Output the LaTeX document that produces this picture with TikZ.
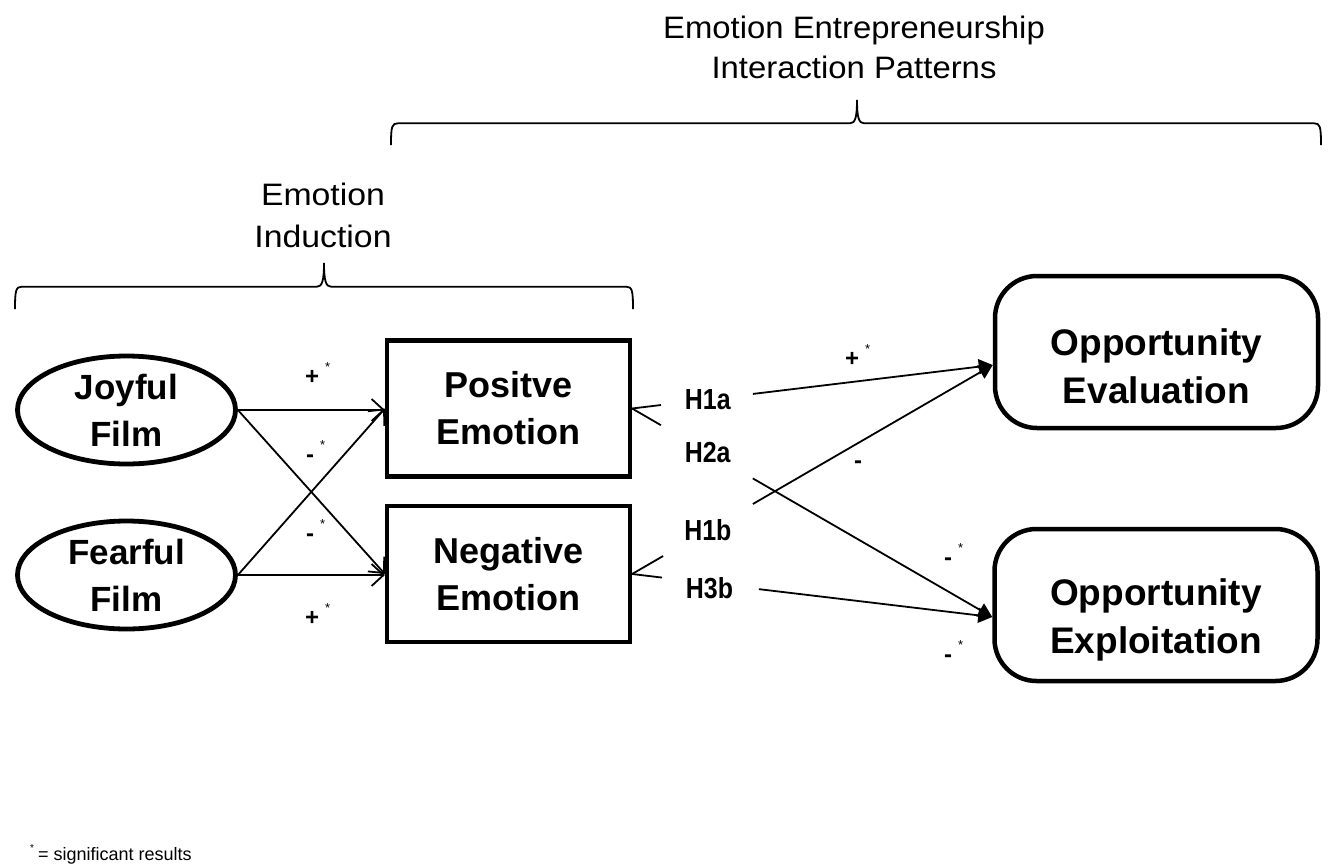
\documentclass[tikz,border=0pt]{standalone}
\usepackage{fontspec}
\setmainfont{Liberation Sans}
\newfontfamily\grpfont[FakeStretch=1.06]{Liberation Sans}
\newfontfamily\grplowfont[FakeStretch=1.09]{Liberation Sans}
\newfontfamily\hfont[FakeStretch=0.86]{Liberation Sans}
\usetikzlibrary{arrows.meta,shapes.geometric,calc}
\newcommand\sgn[1]{#1\hspace{6pt}\raisebox{13pt}{\mdseries\fontsize{13}{13}\selectfont *}}
\begin{document}
\begin{tikzpicture}[x=1pt,y=-1pt,
  film/.style={ellipse,draw,line width=4.8pt,minimum width=218pt,minimum height=108pt,inner sep=0pt,align=center,font=\bfseries\fontsize{35}{47}\selectfont},
  emo/.style={rectangle,draw,line width=4.2pt,minimum width=243pt,minimum height=136pt,inner sep=0pt,align=center,font=\bfseries\fontsize{36}{47}\selectfont},
  opp/.style={rectangle,rounded corners=42pt,draw,line width=4.5pt,minimum width=323pt,minimum height=152pt},
  opptext/.style={inner sep=0pt,align=center,font=\bfseries\fontsize{37}{48}\selectfont},
  openarr/.style={line width=1.8pt,-{Straight Barb[length=12pt,width=22pt,line width=1.8pt]}},
  filledarr/.style={line width=1.8pt,-{Triangle[length=14pt,width=15pt]}},
  plain/.style={line width=1.8pt},
  brace/.style={line width=1.8pt},
  hlab/.style={inner sep=0pt,font=\hfont\bfseries\fontsize{29}{29}\selectfont},
  sgnode/.style={anchor=base west,inner sep=0pt,font=\bfseries\fontsize{24}{24}\selectfont},
  grplab/.style={inner sep=0pt,align=center,font=\grpfont\fontsize{31}{40}\selectfont},
]
\useasboundingbox (0,0) rectangle (1331,865);

% group labels and braces
\node[grplab] (toplab) at (854,47) {Emotion Entrepreneurship\\Interaction Patterns};
\node[grplab,font=\grplowfont\fontsize{31}{42}\selectfont] (lowlab) at (323,215) {Emotion\\Induction};
\draw[brace] (391,145) .. controls (391,126) and (392,123.3) .. (398,123.3) -- (850,123.3)
  .. controls (855,123.3) and (857,118) .. (857,100)
  .. controls (857,118) and (859,123.3) .. (864,123.3) -- (1314,123.3)
  .. controls (1320,123.3) and (1321,126) .. (1321,145);
\draw[brace] (15,309) .. controls (15,290) and (16,286.7) .. (22,286.7) -- (317,286.7)
  .. controls (322,286.7) and (324,281) .. (324,263)
  .. controls (324,281) and (326,286.7) .. (331,286.7) -- (626,286.7)
  .. controls (632,286.7) and (633,290) .. (633,309);

% nodes
\node[film] (joy) at (126.5,410) {Joyful\\Film};
\node[film] (fear) at (126.5,575) {Fearful\\Film};
\node[emo] (pos) at (508.5,408.5) {Positve\\Emotion};
\node[emo] (neg) at (508.5,574) {Negative\\Emotion};
\node[opp] (eval) at (1156.5,352) {};
\node[opp] (expl) at (1156,605) {};
\node[opptext] (evaltext) at (1156.5,366) {Opportunity\\Evaluation};
\node[opptext] (expltext) at (1156,620) {Opportunity\\Exploitation};

% induction arrows
\draw[openarr] (joy.east) -- (joy.east -| pos.west);
\draw[openarr] (joy.east) -- (neg.west);
\draw[openarr] (fear.east) -- (pos.west);
\draw[openarr] (fear.east) -- (fear.east -| neg.west);

\node[sgnode] (s1) at (305,384) {\sgn{+}};
\node[sgnode] (s2) at (306,462) {\sgn{-}};
\node[sgnode] (s3) at (306,541) {\sgn{-}};
\node[sgnode] (s4) at (305,625) {\sgn{+}};

% hypothesis connectors
\path (pos.east) -- coordinate[pos=0.08] (a1) coordinate[pos=0.335] (a2) coordinate[pos=0.21] (a3) ($(eval.west)+(0,13)$);
\draw[plain] (pos.east) -- (a1);
\draw[filledarr] (a2) -- ($(eval.west)+(0,13)$);
\node[hlab] (h1a) at (a3) {H1a};

\path (pos.east) -- coordinate[pos=0.08] (b1) coordinate[pos=0.335] (b2) coordinate[pos=0.21] (b3) ($(expl.west)+(0,12)$);
\draw[plain] (pos.east) -- (b1);
\draw[filledarr] (b2) -- ($(expl.west)+(0,12)$);
\node[hlab] (h2a) at (b3) {H2a};

\path (neg.east) -- coordinate[pos=0.086] (c1) coordinate[pos=0.335] (c2) coordinate[pos=0.21] (c3) ($(eval.west)+(0,13)$);
\draw[plain] (neg.east) -- (c1);
\draw[filledarr] (c2) -- ($(eval.west)+(0,13)$);
\node[hlab] (h1b) at (c3) {H1b};

\path (neg.east) -- coordinate[pos=0.083] (d1) coordinate[pos=0.352] (d2) coordinate[pos=0.215] (d3) ($(expl.west)+(0,12)$);
\draw[plain] (neg.east) -- (d1);
\draw[filledarr] (d2) -- ($(expl.west)+(0,12)$);
\node[hlab,yshift=-5pt] (h3b) at (d3) {H3b};

\node[sgnode] (r1) at (845,366) {\sgn{+}};
\node[sgnode] (r2) at (854,468) {-};
\node[sgnode] (r3) at (944,565) {\sgn{-}};
\node[sgnode] (r4) at (944,662) {\sgn{-}};

% footnote
\node[anchor=base west,inner sep=0pt,font=\fontsize{18}{18}\selectfont] (foot) at (30,860)
  {\raisebox{9pt}{\fontsize{10}{10}\selectfont *}\hspace{4pt}= significant results};
\end{tikzpicture}
\end{document}
